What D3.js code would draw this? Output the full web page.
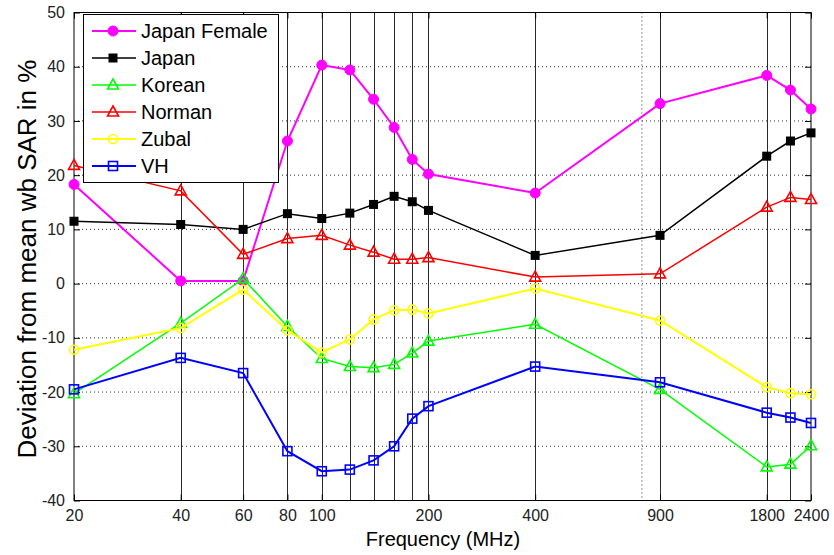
<!DOCTYPE html>
<html><head><meta charset="utf-8">
<script src="https://cdn.jsdelivr.net/npm/d3@7"></script>
<style>
body{margin:0;background:#fff;}
svg{display:block;font-family:"Liberation Sans",Arial,Helvetica,sans-serif;}
</style></head>
<body><svg id="c" width="834" height="555"></svg>
<script>
const freqs = [20,40,60,80,100,120,140,160,180,200,400,900,1800,2100,2400];
const xTickValues = [20,40,60,80,100,200,400,900,1800,2400];
const yTickValues = [-40,-30,-20,-10,0,10,20,30,40,50];
const seriesNames = ["Japan Female","Japan","Korean","Norman","Zubal","VH"];
const japanFemale = [18.3,0.5,0.5,26.3,40.3,39.4,34.0,28.8,22.9,20.2,16.7,33.2,38.4,35.7,32.2];
const japan       = [11.5,10.9,10.0,12.9,12.0,13.0,14.6,16.1,15.1,13.5,5.2,8.9,23.5,26.3,27.8];
const korean      = [-20.3,-7.3,0.9,-7.9,-13.8,-15.3,-15.5,-14.9,-12.8,-10.6,-7.5,-19.5,-33.8,-33.3,-29.9];
const norman      = [21.8,17.1,5.4,8.3,8.9,7.1,5.8,4.5,4.5,4.8,1.2,1.8,14.1,15.9,15.5];
const zubal       = [-12.2,-8.2,-1.1,-8.6,-12.7,-10.3,-6.6,-4.9,-4.8,-5.5,-0.9,-6.8,-19.1,-20.2,-20.4];
const vh          = [-19.5,-13.7,-16.5,-30.9,-34.6,-34.3,-32.6,-30.0,-24.9,-22.6,-15.3,-18.2,-23.8,-24.7,-25.7];
const dottedFreq = [800];

const series = [
  {name:seriesNames[0], values:japanFemale, color:"#ff00ff", marker:"dot",  width:2},
  {name:seriesNames[1], values:japan,       color:"#000000", marker:"fsq",  width:1.5},
  {name:seriesNames[2], values:korean,      color:"#00ff00", marker:"tri",  width:1.5},
  {name:seriesNames[3], values:norman,      color:"#ff0000", marker:"tri",  width:1.5},
  {name:seriesNames[4], values:zubal,       color:"#ffff00", marker:"circ", width:2},
  {name:seriesNames[5], values:vh,          color:"#0000ff", marker:"sq",   width:2}
];

const svg = d3.select("#c");
const L=74, R=811, T=12.5, B=500.5;
const x = d3.scaleLog().domain([20,2400]).range([L,R]);
const y = d3.scaleLinear().domain([-40,50]).range([B,T]);

// horizontal dotted grid
svg.append("g").selectAll("line").data(yTickValues.filter(v=>v>-40&&v<50)).join("line")
  .attr("x1",L).attr("x2",R).attr("y1",d=>y(d)).attr("y2",d=>y(d))
  .attr("stroke","#333").attr("stroke-width",1).attr("stroke-dasharray","1,3");
// dotted vertical grid
svg.append("g").selectAll("line").data(dottedFreq).join("line")
  .attr("x1",d=>x(d)).attr("x2",d=>x(d)).attr("y1",T).attr("y2",B)
  .attr("stroke","#333").attr("stroke-width",1).attr("stroke-dasharray","1,3");
// solid vertical lines at data frequencies
svg.append("g").selectAll("line").data(freqs.slice(1,-1)).join("line")
  .attr("x1",d=>Math.round(x(d))+0.5).attr("x2",d=>Math.round(x(d))+0.5).attr("y1",T).attr("y2",B)
  .attr("stroke","#2a2a2a").attr("stroke-width",1);

// axes
const fmt = d=>String(d);
const xAxB = d3.axisBottom(x).tickValues(xTickValues).tickFormat(fmt).tickSizeInner(-6).tickSizeOuter(0).tickPadding(9);
const xAxT = d3.axisTop(x).tickValues(xTickValues).tickFormat("").tickSizeInner(-6).tickSizeOuter(0);
const yAxL = d3.axisLeft(y).tickValues(yTickValues).tickFormat(fmt).tickSizeInner(-6).tickSizeOuter(0).tickPadding(9);
const yAxR = d3.axisRight(y).tickValues(yTickValues).tickFormat("").tickSizeInner(-6).tickSizeOuter(0);
function style(g){g.select(".domain").remove();g.selectAll("line").attr("stroke","#000");g.selectAll("text").attr("font-size",16).attr("fill","#222").attr("font-family","'Liberation Sans',Arial,sans-serif");}
svg.append("g").attr("transform",`translate(0,${B})`).call(xAxB).call(style);
svg.append("g").attr("transform",`translate(0,${T})`).call(xAxT).call(style);
svg.append("g").attr("transform",`translate(${L},0)`).call(yAxL).call(style);
svg.append("g").attr("transform",`translate(${R},0)`).call(yAxR).call(style);
svg.append("rect").attr("x",L).attr("y",T).attr("width",R-L).attr("height",B-T)
  .attr("fill","none").attr("stroke","#000").attr("stroke-width",1);

function drawMarker(g, m, color){
  if(m==="dot") g.append("circle").attr("r",5).attr("fill",color).attr("stroke",color);
  else if(m==="fsq") g.append("rect").attr("x",-4.5).attr("y",-4.5).attr("width",9).attr("height",9).attr("fill",color);
  else if(m==="sq") g.append("rect").attr("x",-4.5).attr("y",-4.5).attr("width",9).attr("height",9).attr("fill","none").attr("stroke",color).attr("stroke-width",1.6);
  else if(m==="circ") g.append("circle").attr("r",4.5).attr("fill","none").attr("stroke",color).attr("stroke-width",1.6);
  else if(m==="tri") g.append("path").attr("d","M0,-6L5.5,4L-5.5,4Z").attr("fill","none").attr("stroke",color).attr("stroke-width",1.6);
}

const line = d3.line().x((d,i)=>x(freqs[i])).y(d=>y(d));
series.forEach(s=>{
  const g = svg.append("g");
  g.append("path").attr("d",line(s.values)).attr("fill","none").attr("stroke",s.color).attr("stroke-width",s.width);
  s.values.forEach((v,i)=>{
    const mg = g.append("g").attr("transform",`translate(${x(freqs[i])},${y(v)})`);
    drawMarker(mg, s.marker, s.color);
  });
});

// legend
const lg = svg.append("g");
lg.append("rect").attr("x",83.5).attr("y",14.5).attr("width",195).attr("height",168).attr("fill","#fff").attr("stroke","#000").attr("stroke-width",1);
series.forEach((s,i)=>{
  const cy = 31 + i*27;
  lg.append("line").attr("x1",92).attr("x2",136).attr("y1",cy).attr("y2",cy).attr("stroke",s.color).attr("stroke-width",s.width);
  const mg = lg.append("g").attr("transform",`translate(113,${cy})`);
  drawMarker(mg, s.marker, s.color);
  lg.append("text").attr("x",141).attr("y",cy+7).attr("font-size",20).attr("fill","#000").text(s.name);
});

// axis labels
svg.append("text").attr("x",443).attr("y",546).attr("text-anchor","middle").attr("font-size",20).attr("fill","#000").text("Frequency (MHz)");
svg.append("text").attr("transform","translate(36,259) rotate(-90)").attr("text-anchor","middle").attr("font-size",26).attr("fill","#000").text("Deviation from mean wb SAR in %");
</script></body></html>
